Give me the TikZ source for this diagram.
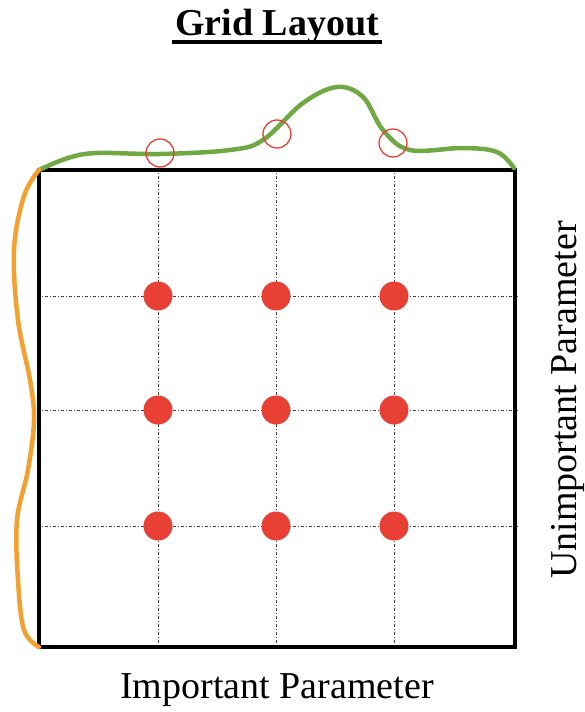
\documentclass[tikz,border=0pt]{standalone}
\usepackage{fontspec}
\setmainfont{Liberation Serif}
\usepackage{tikz}
\usetikzlibrary{positioning,calc}
\definecolor{dotred}{RGB}{232,64,52}
\definecolor{curvegreen}{RGB}{112,168,68}
\definecolor{curveorange}{RGB}{242,160,48}

\begin{document}
\begin{tikzpicture}[
  x=1pt,y=-1pt,
  frame/.style={rectangle,draw=black,line width=4.5pt,minimum width=476pt,minimum height=477pt,inner sep=0pt},
  sample/.style={circle,fill=dotred,minimum size=29pt,inner sep=0pt},
  proj/.style={circle,draw=dotred,line width=1.3pt,minimum size=28pt,inner sep=0pt},
  gridline/.style={draw=black!75,line width=0.9pt,dash pattern=on 3pt off 2pt on 1pt off 2pt},
  axislabel/.style={font=\fontsize{38}{44}\selectfont},
  marginal/.style={line width=4.5pt,line cap=round,line join=round}
]
  \useasboundingbox (0,0) rectangle (585,712);

  % grid columns and rows
  \coordinate (c1) at (158,296);
  \coordinate (c2) at (276,410);
  \coordinate (c3) at (394,526);

  \node[frame] (box) at (277,408.5) {};
  \foreach \c in {c1,c2,c3} {
    \draw[gridline] (\c |- box.north) -- (\c |- box.south);
    \draw[gridline] (\c -| box.west) -- (\c -| box.east);
  }
  \node[frame] at (box) {};

  % samples on the grid
  \node[sample] (d11) at (c1 |- c1) {};
  \node[sample] (d12) at (c2 |- c1) {};
  \node[sample] (d13) at (c3 |- c1) {};
  \node[sample] (d21) at (c1 |- c2) {};
  \node[sample] (d22) at (c2 |- c2) {};
  \node[sample] (d23) at (c3 |- c2) {};
  \node[sample] (d31) at (c1 |- c3) {};
  \node[sample] (d32) at (c2 |- c3) {};
  \node[sample] (d33) at (c3 |- c3) {};

  % marginal curves
  \draw[marginal,curvegreen] plot[smooth,tension=0.6] coordinates {
    (39,170) (68,158) (97,153) (160,154) (230,150) (263,140) (303,103)
    (337,87) (363,97) (383,130) (410,150) (463,148) (497,152) (514,168)};
  \draw[marginal,curveorange] plot[smooth,tension=0.6] coordinates {
    (39,170) (24,196) (14,250) (18,320) (30,380) (34,420) (28,470)
    (17,520) (18,580) (24,630) (39,647)};

  % projections of the samples
  \node[proj] (m1) at (160,153) {};
  \node[proj] (m2) at (277,134) {};
  \node[proj] (m3) at (393,143) {};

  \node[font=\fontsize{38}{44}\selectfont\bfseries,anchor=base] (title) at (277,35) {Grid Layout};
  \draw[line width=3.5pt] ([yshift=-7pt]title.base west) -- ([yshift=-7pt]title.base east);
  \node[axislabel,anchor=base] (xlab) at (277,698) {Important Parameter};
  \node[axislabel,rotate=90,anchor=base] (ylab) at (576,400) {Unimportant Parameter};
\end{tikzpicture}
\end{document}
